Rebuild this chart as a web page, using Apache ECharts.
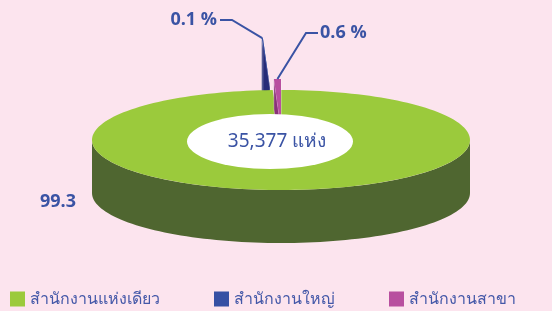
<!DOCTYPE html>
<html>
<head>
<meta charset="utf-8">
<style>
  html, body { margin: 0; padding: 0; background: #fce4ee; }
  #main { width: 552px; height: 311px; }
</style>
<script src="https://cdn.jsdelivr.net/npm/echarts@6/dist/echarts.min.js"></script>
</head>
<body>
<div id="main"></div>
<script>
// ข้อมูล
var categories = ["สำนักงานแห่งเดียว", "สำนักงานใหญ่", "สำนักงานสาขา"];
var shares = [99.3, 0.1, 0.6];
var shareLabels = ["99.3", "0.1 %", "0.6 %"];
var totalLabel = "35,377 แห่ง";

var colors = ["#9bca3c", "#3650a4", "#b84f9f"];
var wallColors = ["#4f6630", "#262b78", "#8a3279"];
var textColor = "#3a53a4";

// รูปทรงของพายสามมิติ
var cx = 281, cy = 140, rx = 189, ry = 50, depth = 53;
var explode = [[0, 0], [-11, -52], [0, -11]];
var wallDepth = [53, 53, 30];
var labelPos = [[58, 202, "center"], [217, 20, "right"], [320, 33, "left"]];
var elbow = [null, [232, 20], [306, 33]];

var total = shares.reduce(function (a, b) { return a + b; }, 0);

function rad(d) { return d * Math.PI / 180; }

function pt(i, t, r, dz) {
  return [
    cx + explode[i][0] + r * rx * Math.cos(rad(t)),
    cy + explode[i][1] + r * ry * Math.sin(rad(t)) + (dz || 0)
  ];
}

function arc(i, t0, t1, dz) {
  var pts = [];
  var n = Math.max(2, Math.ceil(Math.abs(t1 - t0) / 2));
  for (var k = 0; k <= n; k++) {
    pts.push(pt(i, t0 + (t1 - t0) * k / n, 1, dz));
  }
  return pts;
}

function renderSlice(params, api) {
  var i = params.seriesIndex;
  var v = api.value(0);
  var before = 0;
  for (var k = 0; k < i; k++) before += shares[k];
  var a0 = -90 + 360 * before / total;
  var a1 = a0 + 360 * v / total;
  var children = [];
  var d = wallDepth[i];

  // ผนังด้านหน้า
  var f0 = Math.max(a0, 0), f1 = Math.min(a1, 180);
  if (f1 > f0) {
    var top = arc(i, f0, f1, 0);
    var bot = arc(i, f1, f0, depth);
    children.push({ type: "polygon", shape: { points: top.concat(bot) },
      style: { fill: wallColors[i] } });
  }
  // หน้าตัดของชิ้นที่แยกออก
  if (i > 0) {
    [a0, a1].forEach(function (t) {
      children.push({ type: "polygon", shape: { points: [
        pt(i, t, 1, 0), pt(i, t, 0, 0), pt(i, t, 0, d), pt(i, t, 1, d)
      ] }, style: { fill: wallColors[i], stroke: "rgba(255,255,255,0.5)", lineWidth: 0.6 } });
    });
  }
  // หน้าบน
  children.push({ type: "polygon",
    shape: { points: [pt(i, a0, 0, 0)].concat(arc(i, a0, a1, 0)) },
    style: { fill: colors[i] } });

  // ป้ายค่า
  var lp = labelPos[i];
  children.push({ type: "text", z2: 10, style: {
    text: shareLabels[i], x: lp[0], y: lp[1], align: lp[2], verticalAlign: "middle",
    fill: textColor, font: "bold 18px 'Open Sans', sans-serif" } });
  if (elbow[i]) {
    var tip = pt(i, (a0 + a1) / 2, 1, 0);
    var startX = lp[2] === "right" ? lp[0] + 3 : lp[0] - 2;
    children.push({ type: "polyline", z2: 10, shape: { points: [
      [startX, lp[1]], elbow[i], tip
    ] }, style: { stroke: textColor, lineWidth: 2, fill: null } });
  }
  return { type: "group", children: children };
}

var myChart = echarts.init(document.getElementById("main"));
myChart.setOption({
  backgroundColor: "#fce4ee",
  animation: false,
  color: colors,
  legend: {
    left: 10,
    top: 291,
    padding: 0,
    itemWidth: 15,
    itemHeight: 15,
    itemGap: 54,
    icon: "rect",
    textStyle: { color: "#4458a8", fontSize: 16, fontWeight: 500, fontFamily: "'Noto Sans', sans-serif" },
    data: categories
  },
  graphic: [
    {
      type: "circle", z: 100,
      shape: { cx: 0, cy: 0, r: 83 },
      x: 270, y: 141.5, scaleY: 27.5 / 83,
      style: { fill: "#ffffff" }
    },
    {
      type: "text", z: 101, x: 277, y: 142,
      style: { text: totalLabel, align: "center", verticalAlign: "middle",
        fill: textColor, font: "19px 'Noto Sans', sans-serif" }
    }
  ],
  series: categories.map(function (name, i) {
    return {
      name: name,
      type: "custom",
      coordinateSystem: "none",
      z: [2, 1, 3][i],
      renderItem: renderSlice,
      data: [shares[i]]
    };
  })
});
</script>
</body>
</html>
